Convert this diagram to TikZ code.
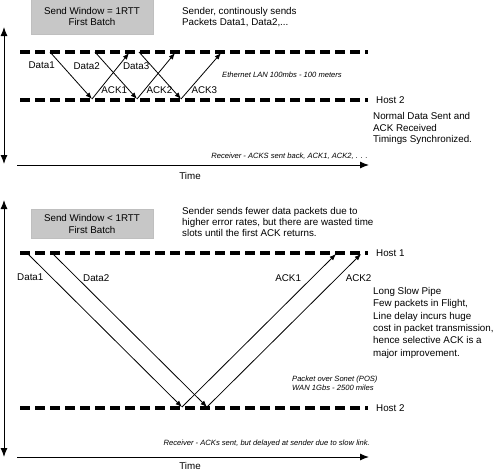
\documentclass[tikz,border=0pt]{standalone}
\usepackage{fontspec}
\setmainfont{Liberation Sans}
\usetikzlibrary{arrows.meta, positioning}
\definecolor{boxgray}{gray}{0.78}

\begin{document}
\begin{tikzpicture}[x=1pt, y=-1pt,
  hostline/.style = {line width=3.2pt, dash pattern=on 10pt off 5pt},
  packet/.style = {-{Latex[length=6.5pt, width=5pt]}, line width=0.8pt},
  timeaxis/.style = {-{Latex[length=9pt, width=7pt]}, line width=1pt},
  lifeaxis/.style = {{Latex[length=9pt, width=7pt]}-{Latex[length=9pt, width=7pt]}, line width=1pt},
  lbl/.style = {font=\fontsize{9.8}{11}\selectfont, inner sep=1pt},
  note/.style = {font=\fontsize{9.8}{11.5}\selectfont, align=left, inner sep=0pt, anchor=north west},
  remark/.style = {font=\fontsize{7.6}{8.5}\selectfont\itshape, inner sep=0pt, align=left},
  window/.style = {rectangle, fill=boxgray, draw=black!25, minimum width=122pt, align=center, font=\fontsize{9.8}{12}\selectfont}]
\useasboundingbox (0,0) rectangle (500,471);

% upper part: short LAN
\node[window, minimum height=35pt] (win1) at (92,16.5) {Send Window = 1RTT\\[-1.5pt]First Batch};
\node[note] (sender1) at (182,7) {Sender, continously sends\\Packets Data1, Data2,...};
\coordinate (la1) at (20,52);
\coordinate (la2) at (368,52);
\coordinate (lb1) at (20,100);
\coordinate (lb2) at (368,100);
\draw[hostline] (la1) -- (la2);
\draw[hostline] (lb1) -- (lb2);
\node[lbl, right = 7pt of lb2] (host2a) {Host 2};
\coordinate (s1) at (50,52);
\coordinate (s2) at (95,52);
\coordinate (s3) at (139,52);
\coordinate (r1) at (92,99);
\coordinate (r2) at (137,99);
\coordinate (r3) at (181,99);
\coordinate (e1) at (129,53);
\coordinate (e2) at (175,53);
\coordinate (e3) at (221,53);
\draw[packet] (s1) -- node[lbl, pos=0.29, left=6pt] (data1a) {Data1} (r1);
\draw[packet] (s2) -- node[lbl, pos=0.29, left=6pt] (data2a) {Data2} (r2);
\draw[packet] (s3) -- node[lbl, pos=0.29, left=0.5pt] (data3a) {Data3} (r3);
\draw[packet] (r1) -- node[lbl, pos=0.19, right=1pt] (ack1a) {ACK1} (e1);
\draw[packet] (r2) -- node[lbl, pos=0.19, right=1pt] (ack2a) {ACK2} (e2);
\draw[packet] (r3) -- node[lbl, pos=0.19, right=1.5pt] (ack3a) {ACK3} (e3);
\node[remark, anchor=west] (lan) at (222,75) {Ethernet LAN 100mbs - 100 meters};
\node[note] (normal) at (373,112.5) {Normal Data Sent and\\ACK Received\\Timings Synchronized.};
\node[remark, anchor=east] (recv1) at (368,156) {Receiver - ACKS sent back, ACK1, ACK2, . . .};
\coordinate (ta1) at (17,165);
\coordinate (ta2) at (369,165);
\draw[timeaxis] (ta1) -- (ta2);
\node[lbl] (time1) at (190,175.5) {Time};
\coordinate (va1) at (4,27);
\coordinate (va2) at (4,164);
\draw[lifeaxis] (va1) -- (va2);

% lower part: long slow pipe
\node[window, minimum height=29pt] (win2) at (92,223.5) {Send Window < 1RTT\\First Batch};
\node[note, font=\fontsize{9.8}{11}\selectfont] (sender2) at (182,207.5) {Sender sends fewer data packets due to\\higher error rates, but there are wasted time\\slots until the first ACK returns.};
\coordinate (lc1) at (20,253);
\coordinate (lc2) at (368,253);
\coordinate (ld1) at (20,408);
\coordinate (ld2) at (368,408);
\draw[hostline] (lc1) -- (lc2);
\draw[hostline] (ld1) -- (ld2);
\node[lbl, right = 7pt of lc2] (host1b) {Host 1};
\node[lbl, right = 7pt of ld2] (host2b) {Host 2};
\coordinate (p1) at (27,253);
\coordinate (p2) at (52,253);
\coordinate (q1) at (182,407);
\coordinate (q2) at (207,407);
\coordinate (f1) at (336,254);
\coordinate (f2) at (361,254);
\draw[packet] (p1) -- node[lbl, pos=0.16, left=7pt] (data1b) {Data1} (q1);
\draw[packet] (p2) -- node[lbl, pos=0.16, right=5pt] (data2b) {Data2} (q2);
\draw[packet] (q1) -- node[lbl, pos=0.84, left=9pt] (ack1b) {ACK1} (f1);
\draw[packet] (q2) -- node[lbl, pos=0.84, right=8pt] (ack2b) {ACK2} (f2);
\node[note, font=\fontsize{9.8}{12.4}\selectfont] (pipe) at (373,287) {Long Slow Pipe\\Few packets in Flight,\\Line delay incurs huge\\cost in packet transmission,\\hence selective ACK is a\\major improvement.};
\node[remark, anchor=north west] (pos) at (292,376) {Packet over Sonet (POS)\\WAN 1Gbs - 2500 miles};
\node[remark, anchor=east] (recv2) at (370,444) {Receiver - ACKs sent, but delayed at sender due to slow link.};
\coordinate (tb1) at (17,457);
\coordinate (tb2) at (369,457);
\draw[timeaxis] (tb1) -- (tb2);
\node[lbl] (time2) at (190,466) {Time};
\coordinate (vb1) at (4,200);
\coordinate (vb2) at (4,457);
\draw[lifeaxis] (vb1) -- (vb2);
\end{tikzpicture}
\end{document}
